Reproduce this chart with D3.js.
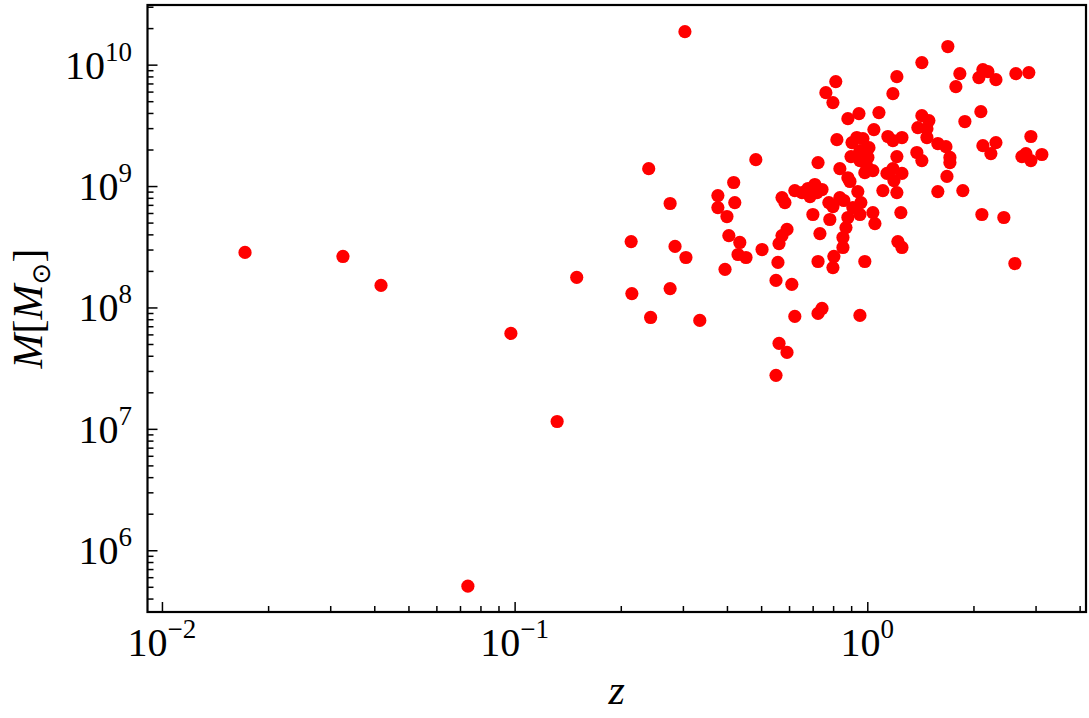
<!DOCTYPE html>
<html>
<head>
<meta charset="utf-8">
<script src="https://cdn.jsdelivr.net/npm/d3@7"></script>
<style>
  html, body { margin: 0; padding: 0; background: #fff; }
  svg { display: block; }
  text { font-family: "Liberation Serif", "Times New Roman", Times, serif; }
</style>
</head>
<body>
<svg id="chart" width="1089" height="718"></svg>
<script>
// Redshift z of each object
const zValues = [
  0.0172, 0.0326, 0.0418, 0.0976, 0.132, 0.0737, 0.150, 0.304, 0.214, 0.215,
  0.240, 0.243, 0.276, 0.285, 0.306, 0.276, 0.335, 0.377, 0.377, 0.421,
  0.400, 0.418, 0.483, 0.405, 0.435, 0.430, 0.453, 0.395, 0.503, 0.592,
  0.573, 0.562, 0.558, 0.551, 0.611, 0.623, 0.725, 0.744, 0.562, 0.592,
  0.551, 0.573, 0.584, 0.623, 0.653, 0.679, 0.688, 0.710, 0.720, 0.744,
  0.701, 0.725, 0.734, 0.725, 0.814, 0.763, 0.799, 0.881, 0.947, 1.079,
  1.044, 0.820, 0.905, 0.934, 0.972, 1.011, 0.953, 0.899, 0.953, 1.004,
  0.997, 1.037, 0.984, 0.836, 0.881, 0.893, 0.940, 1.107, 1.213, 0.836,
  0.858, 0.778, 0.799, 0.910, 0.959, 0.953, 0.881, 0.870, 0.783, 1.037,
  1.051, 0.853, 0.853, 0.804, 0.799, 0.984, 1.221, 1.254, 0.953, 1.245,
  1.213, 1.182, 1.428, 1.692, 1.144, 1.182, 1.254, 1.428, 1.495, 1.391,
  1.476, 1.476, 1.382, 1.428, 1.213, 1.137, 1.182, 1.254, 1.190, 1.585,
  1.671, 1.715, 1.715, 1.682, 1.585, 1.866, 1.830, 1.783, 2.127, 2.198,
  2.072, 2.316, 2.638, 2.871, 2.099, 1.891, 2.127, 2.316, 2.241, 2.910,
  2.744, 2.817, 2.910, 3.126, 2.113, 2.439, 2.621
];
// Black-hole mass M in solar masses
const massValues = [
  2.84e8, 2.63e8, 1.52e8, 6.11e7, 1.15e7, 5.06e5, 1.77e8, 1.87e10, 3.49e8, 1.30e8,
  1.39e9, 8.27e7, 7.18e8, 3.18e8, 2.58e8, 1.43e8, 7.82e7, 8.35e8, 6.65e8, 7.31e8,
  5.61e8, 1.07e9, 1.65e9, 3.91e8, 3.43e8, 2.73e8, 2.58e8, 2.06e8, 3.00e8, 4.39e8,
  3.91e8, 3.36e8, 2.35e8, 1.67e8, 1.55e8, 8.43e7, 8.93e7, 9.81e7, 5.06e7, 4.26e7,
  2.76e7, 8.04e8, 7.31e8, 9.18e8, 8.84e8, 9.54e8, 8.19e8, 1.03e9, 8.84e8, 9.36e8,
  5.83e8, 1.56e9, 4.06e8, 2.39e8, 7.25e9, 5.88e9, 4.87e9, 3.59e9, 3.95e9, 4.03e9,
  2.92e9, 2.41e9, 2.28e9, 2.51e9, 2.46e9, 2.07e9, 1.96e9, 1.75e9, 1.62e9, 1.72e9,
  1.45e9, 1.34e9, 1.29e9, 1.39e9, 1.17e9, 1.09e9, 9.01e8, 9.18e8, 8.84e8, 8.04e8,
  7.60e8, 7.31e8, 6.78e8, 6.65e8, 7.31e8, 5.83e8, 5.51e8, 4.55e8, 5.30e8, 6.05e8,
  4.91e8, 3.77e8, 3.12e8, 2.63e8, 2.13e8, 2.39e8, 3.49e8, 3.12e8, 8.60e7, 6.05e8,
  7.96e9, 5.77e9, 1.04e10, 1.41e10, 2.56e9, 2.37e9, 2.51e9, 3.80e9, 3.46e9, 3.03e9,
  2.97e9, 2.51e9, 1.89e9, 1.62e9, 1.75e9, 1.27e9, 1.39e9, 1.27e9, 1.11e9, 2.24e9,
  2.11e9, 1.72e9, 1.56e9, 1.20e9, 9.01e8, 9.18e8, 8.43e9, 6.59e9, 9.10e9, 8.76e9,
  7.82e9, 7.52e9, 8.43e9, 8.60e9, 4.10e9, 3.40e9, 2.15e9, 2.28e9, 1.85e9, 2.56e9,
  1.75e9, 1.85e9, 1.62e9, 1.82e9, 5.83e8, 5.51e8, 2.30e8
];
// Tick labels (decade exponents)
const xTickExponents = [-2, -1, 0];
const yTickExponents = [6, 7, 8, 9, 10];

const xDomain = [0.0091, 4.17];
const yDomain = [3.1e5, 3.1e10];

const svg = d3.select("#chart");
const plotL = 147.5, plotR = 1086, plotT = 5, plotB = 612;

const x = d3.scaleLog().domain(xDomain).range([plotL, plotR]);
const y = d3.scaleLog().domain(yDomain).range([plotB, plotT]);

const data = zValues.map((z, i) => ({ z, m: massValues[i] }));

// points
svg.append("g")
  .selectAll("circle")
  .data(data)
  .enter().append("circle")
  .attr("cx", d => x(d.z))
  .attr("cy", d => y(d.m))
  .attr("r", 6.6)
  .attr("fill", "#ff0000");

const isDecade = v => Math.abs(Math.log10(v) - Math.round(Math.log10(v))) < 1e-9;
const xMinor = x.ticks(30).filter(v => !isDecade(v));
const yMinor = y.ticks(60).filter(v => !isDecade(v));
const xMajor = xTickExponents.map(e => Math.pow(10, e));
const yMajor = yTickExponents.map(e => Math.pow(10, e));

function styleAxis(g) {
  g.select(".domain").remove();
  g.selectAll("line").attr("stroke", "#000").attr("stroke-width", 1.5);
}

// bottom axis (ticks inward)
svg.append("g").attr("transform", `translate(0,${plotB})`)
  .call(d3.axisBottom(x).tickValues(xMajor).tickSize(-10).tickFormat(""))
  .call(styleAxis);
svg.append("g").attr("transform", `translate(0,${plotB})`)
  .call(d3.axisBottom(x).tickValues(xMinor).tickSize(-6).tickFormat(""))
  .call(styleAxis);
// left axis
svg.append("g").attr("transform", `translate(${plotL},0)`)
  .call(d3.axisLeft(y).tickValues(yMajor).tickSize(-10).tickFormat(""))
  .call(styleAxis);
svg.append("g").attr("transform", `translate(${plotL},0)`)
  .call(d3.axisLeft(y).tickValues(yMinor).tickSize(-6).tickFormat(""))
  .call(styleAxis);

// frame
svg.append("rect")
  .attr("x", plotL).attr("y", plotT)
  .attr("width", plotR - plotL).attr("height", plotB - plotT)
  .attr("fill", "none").attr("stroke", "#000").attr("stroke-width", 2.2);

const expStr = e => (e < 0 ? "\u2212" + (-e) : String(e));

// x tick labels
xTickExponents.forEach(e => {
  const t = svg.append("text")
    .attr("x", x(Math.pow(10, e)))
    .attr("y", 656)
    .attr("text-anchor", "middle")
    .attr("font-size", 40)
    .attr("fill", "#000");
  t.append("tspan").text("10");
  t.append("tspan").attr("dy", -18).attr("font-size", 27).text(expStr(e));
});

// y tick labels
yTickExponents.forEach(e => {
  const t = svg.append("text")
    .attr("x", 132)
    .attr("y", y(Math.pow(10, e)) + 14)
    .attr("text-anchor", "end")
    .attr("font-size", 40)
    .attr("fill", "#000");
  t.append("tspan").text("10");
  t.append("tspan").attr("dy", -18).attr("font-size", 27).text(expStr(e));
});

// x axis label
svg.append("text")
  .attr("x", (plotL + plotR) / 2)
  .attr("y", 704)
  .attr("text-anchor", "middle")
  .attr("font-style", "italic")
  .attr("font-size", 42)
  .text("z");

// y axis label M[M_sun]
const yl = svg.append("text")
  .attr("transform", `translate(42,${(plotT + plotB) / 2}) rotate(-90)`)
  .attr("text-anchor", "middle")
  .attr("font-size", 42);
yl.append("tspan").attr("font-style", "italic").text("M");
yl.append("tspan").text("[");
yl.append("tspan").attr("font-style", "italic").text("M");
yl.append("tspan").attr("dy", 8).attr("font-size", 26).style("font-family", "'DejaVu Sans', sans-serif").text("\u2299");
yl.append("tspan").attr("dy", -8).text("]");
</script>
</body>
</html>
